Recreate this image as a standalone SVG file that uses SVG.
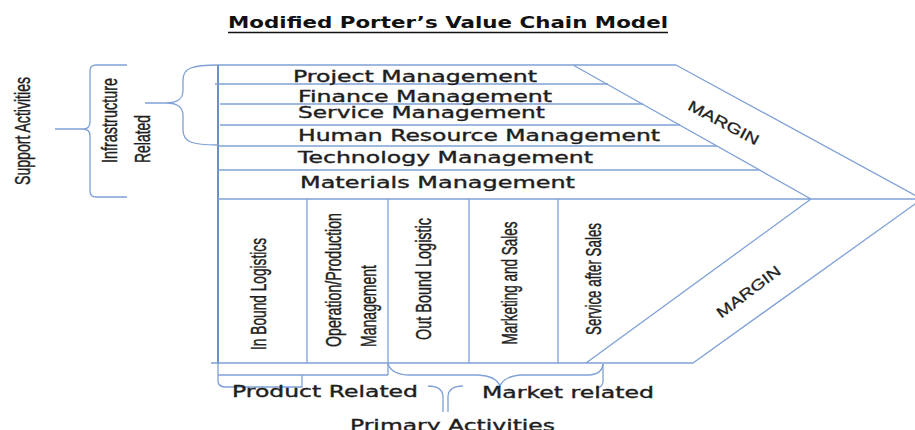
<svg xmlns="http://www.w3.org/2000/svg" width="915" height="430" viewBox="0 0 915 430">
<style>
.ln{fill:none;stroke:#7fa1d6;stroke-width:1.3}
.fr{fill:none;stroke:#6a8fcc;stroke-width:2}
.t{font-family:"DejaVu Sans",Verdana,sans-serif;font-size:15px;fill:#1e1e1e;stroke:#1e1e1e;stroke-width:0.35}
.tb{font-family:"DejaVu Sans",Verdana,sans-serif;font-size:15px;font-weight:bold;fill:#111}
.v{font-family:"Liberation Sans",Arial,sans-serif;font-size:15px;fill:#1e1e1e;stroke:#1e1e1e;stroke-width:0.3}
</style>
<rect width="915" height="430" fill="#fff"/>
<g id="title">
<text class="tb" x="228" y="28" textLength="440" lengthAdjust="spacingAndGlyphs">Modified Porter’s Value Chain Model</text>
<line x1="228" y1="32.5" x2="668" y2="32.5" stroke="#111" stroke-width="1.5"/>
</g>
<g id="connectors">
<path class="fr" d="M218,65 V364"/>
<path class="ln" d="M218,65 H676 M573,65 L811,199 M676,65 L922,199 L693,363 M811,199 L586,363 M218,199 H922 M211,363 H693"/>
<path class="ln" d="M215,84 H608 M220,104 H643 M220,125 H680 M218,146 H717 M218,170 H759"/>
<path class="ln" d="M307,199 V363 M388,199 V375 M469,199 V363 M558,199 V363"/>
<path class="ln" d="M127,65 H96 Q90,65 90,71 V122 Q90,129 83,129 H55 M83,129 Q90,129 90,136 V191 Q90,197 96,197 H127"/>
<path class="ln" d="M218,65 C192,65 183,68 183,80 V90 C183,99 178,103 166,103 H145 M166,103 C178,103 183,107 183,116 V130 C183,142 192,145 218,145"/>
<path class="ln" d="M218,364 V382 Q219,387 226,387 H302 V375 M218,375 H388"/>
<path class="ln" d="M388,364 Q392,375 410,375 H478 Q496,376 500,386 Q504,376 522,375 H590 Q602,374 603,364"/>
<path class="ln" d="M603,364 V382 Q602,388 596,388 M428,386 Q442,386 443,396 V412 M448,412 V396 Q449,386 463,386"/>
</g>
<g id="support-activities"><text class="v" transform="translate(30,131) scale(1.5,1) rotate(-90)" text-anchor="middle" textLength="108" lengthAdjust="spacingAndGlyphs">Support Activities</text></g>
<g id="infrastructure-related">
<text class="v" transform="translate(117,163) scale(1.45,1) rotate(-90)" textLength="85" lengthAdjust="spacingAndGlyphs">Infrastructure</text>
<text class="v" transform="translate(150,163) scale(1.45,1) rotate(-90)" textLength="48" lengthAdjust="spacingAndGlyphs">Related</text>
</g>
<g id="project-management"><text class="t" x="293" y="82" textLength="244" lengthAdjust="spacingAndGlyphs">Project Management</text></g>
<g id="finance-management"><text class="t" x="298" y="102" textLength="254" lengthAdjust="spacingAndGlyphs">Finance Management</text></g>
<g id="service-management"><text class="t" x="298" y="118" textLength="247" lengthAdjust="spacingAndGlyphs">Service Management</text></g>
<g id="hr-management"><text class="t" x="298" y="141" textLength="362" lengthAdjust="spacingAndGlyphs">Human Resource Management</text></g>
<g id="technology-management"><text class="t" x="298" y="163" textLength="295" lengthAdjust="spacingAndGlyphs">Technology Management</text></g>
<g id="materials-management"><text class="t" x="300" y="188" textLength="275" lengthAdjust="spacingAndGlyphs">Materials Management</text></g>
<g id="inbound"><text class="v" transform="translate(266,294) scale(1.5,1) rotate(-90)" text-anchor="middle" textLength="112" lengthAdjust="spacingAndGlyphs">In Bound Logistics</text></g>
<g id="operations">
<text class="v" transform="translate(341,347) scale(1.5,1) rotate(-90)" textLength="134" lengthAdjust="spacingAndGlyphs">Operation/Production</text>
<text class="v" transform="translate(376,347) scale(1.5,1) rotate(-90)" textLength="82" lengthAdjust="spacingAndGlyphs">Management</text>
</g>
<g id="outbound"><text class="v" transform="translate(431,279) scale(1.5,1) rotate(-90)" text-anchor="middle" textLength="122" lengthAdjust="spacingAndGlyphs">Out Bound Logistic</text></g>
<g id="marketing"><text class="v" transform="translate(517,283) scale(1.5,1) rotate(-90)" text-anchor="middle" textLength="123" lengthAdjust="spacingAndGlyphs">Marketing and Sales</text></g>
<g id="service-after-sales"><text class="v" transform="translate(601,279) scale(1.5,1) rotate(-90)" text-anchor="middle" textLength="112" lengthAdjust="spacingAndGlyphs">Service after Sales</text></g>
<g id="margin-upper"><text class="v" transform="translate(724,122) rotate(28)" text-anchor="middle" dy="6" font-size="17" textLength="78" lengthAdjust="spacingAndGlyphs">MARGIN</text></g>
<g id="margin-lower"><text class="v" transform="translate(748,291) rotate(-37)" text-anchor="middle" dy="6" font-size="17" textLength="76" lengthAdjust="spacingAndGlyphs">MARGIN</text></g>
<g id="product-related"><text class="t" x="232" y="397" textLength="186" lengthAdjust="spacingAndGlyphs">Product Related</text></g>
<g id="market-related"><text class="t" x="482" y="398" textLength="172" lengthAdjust="spacingAndGlyphs">Market related</text></g>
<g id="primary-activities"><text class="t" x="350" y="431" textLength="205" lengthAdjust="spacingAndGlyphs">Primary Activities</text></g>
</svg>
